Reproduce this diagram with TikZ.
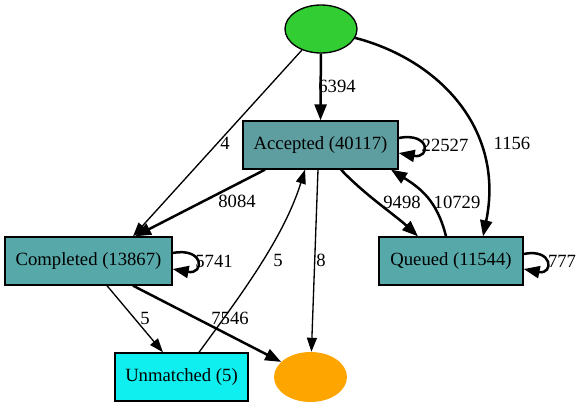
\documentclass[tikz,border=0pt]{standalone}
\usepackage{fontspec}
\setmainfont{Liberation Serif}
\usetikzlibrary{arrows.meta,shapes.geometric}
\definecolor{startgreen}{HTML}{32CD32}
\definecolor{endorange}{HTML}{FFA500}
\definecolor{acccol}{HTML}{5F9EA0}
\definecolor{tealcol}{HTML}{57A8A8}
\definecolor{unmcol}{HTML}{0FEFEF}
\tikzset{
  every node/.style={font=\fontsize{18.67}{22}\selectfont},
  statebox/.style={draw=black, line width=1.33pt, rectangle, minimum height=48pt, inner sep=0pt},
  thin edge/.style={line width=1.33pt, -{Triangle[length=14pt,width=10pt]}},
  thick edge/.style={line width=2.5pt, -{Triangle[length=16pt,width=12pt]}},
  lbl/.style={inner sep=0pt, fill=none}
}
\begin{document}
\begin{tikzpicture}[x=1pt,y=-1pt]
\useasboundingbox (0,0) rectangle (580,407);
% nodes
\node[ellipse, draw=black, line width=1.33pt, fill=startgreen, minimum width=72pt, minimum height=48pt, inner sep=0pt] (s) at (321,29) {};
\node[statebox, fill=acccol, minimum width=155pt] (acc) at (320.5,145) {Accepted (40117)};
\node[statebox, fill=tealcol, minimum width=167pt] (com) at (88.5,261) {Completed (13867)};
\node[statebox, fill=tealcol, minimum width=144pt] (que) at (451,261) {Queued (11544)};
\node[statebox, fill=unmcol, minimum width=133pt] (unm) at (181.5,377) {Unmatched (5)};
\node[ellipse, fill=endorange, minimum width=73pt, minimum height=50pt, inner sep=0pt] (e) at (310.5,377) {};
% edges
\draw[thick edge] (s) -- (acc.north);
\draw[thin edge] (s) -- ([xshift=44.5pt]com.north);
\draw[thick edge] (s) .. controls (440,60) and (505,130) .. ([xshift=32pt]que.north);
\draw[thick edge] ([yshift=7pt]acc.east) .. controls +(32,-6) and +(32,6) .. ([yshift=-8pt]acc.east);
\draw[thick edge] ([xshift=-55.5pt]acc.south) -- ([xshift=46.5pt]com.north);
\draw[thick edge] ([xshift=20.5pt]acc.south) .. controls (365,195) and (395,215) .. ([xshift=-33pt]que.north);
\draw[thick edge] ([xshift=-5pt]que.north) .. controls (437,200) and (420,188) .. ([xshift=70.5pt]acc.south);
\draw[thick edge] ([yshift=7pt]que.east) .. controls +(30,-6) and +(30,6) .. ([yshift=-8pt]que.east);
\draw[thin edge] ([xshift=-2.5pt]acc.south) -- (e);
\draw[thick edge] ([yshift=8pt]com.east) .. controls +(32,-6) and +(32,6) .. ([yshift=-8pt]com.east);
\draw[thin edge] ([xshift=18.5pt]com.south) -- ([xshift=-18.5pt]unm.north);
\draw[thick edge] ([xshift=44.5pt]com.south) -- (e);
\draw[thin edge] ([xshift=17.5pt]unm.north) .. controls (237,300) and (283,240) .. ([xshift=-15.5pt]acc.south);
% labels
\node[lbl] (l1) at (337,86) {6394};
\node[lbl] (l2) at (225,143) {4};
\node[lbl] (l3) at (512,143) {1156};
\node[lbl] (l4) at (445,145) {22527};
\node[lbl] (l5) at (237,201) {8084};
\node[lbl] (l6) at (402,202) {9498};
\node[lbl] (l7) at (457,202) {10729};
\node[lbl] (l8) at (214,261) {5741};
\node[lbl] (l9) at (562,261) {777};
\node[lbl] (l10) at (145,318) {5};
\node[lbl] (l11) at (230,318) {7546};
\node[lbl] (l12) at (278,260) {5};
\node[lbl] (l13) at (321,260) {8};
\end{tikzpicture}
\end{document}
